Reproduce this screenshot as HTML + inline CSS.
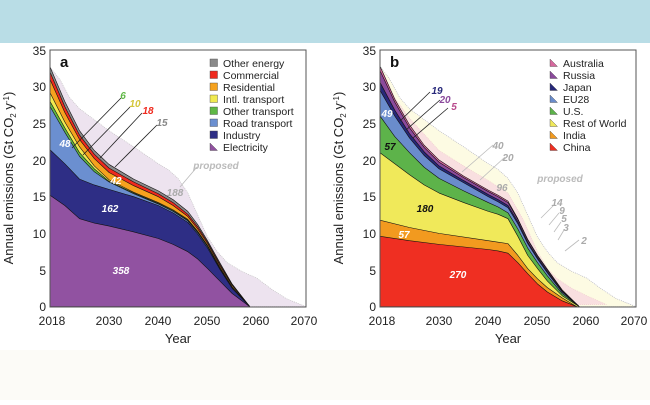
<!DOCTYPE html>
<html><head><meta charset="utf-8"><style>
body{margin:0;width:650px;height:400px;overflow:hidden;background:#fff;font-family:"Liberation Sans",sans-serif}
</style></head><body>
<svg width="650" height="400" viewBox="0 0 650 400" xmlns="http://www.w3.org/2000/svg" font-family="Liberation Sans, sans-serif">
<rect x="0" y="0" width="650" height="43" fill="#b9dde6"/>
<rect x="0" y="350" width="650" height="50" fill="#fcfbf7"/>

<!-- Panel A -->
<g transform="translate(50,306.7) scale(4.923,-7.333)" stroke="#111" stroke-width="0.6" stroke-linejoin="round">
<path vector-effect="non-scaling-stroke" stroke="#bbb" stroke-dasharray="1,1" fill="#ede3ef" d="M0,0 L0,32.7 2,31 4,28.5 6,27 9,25.5 12,24 17,21.8 22,19.5 24,18.7 26,17.5 28,15.5 30,12.5 32,9.5 34,7.5 36,6 39,4.8 42,3.9 45,2.4 48,1.1 52,0 Z"/>
<path vector-effect="non-scaling-stroke" fill="#8a8a8a" d="M0,0 L0,32.7 3,28 6,24 9,21.3 12,19.4 17,17.4 22,15.8 25,14.6 28,13 30,11.2 32,9 34.5,6 37,3.1 40.6,0 Z"/>
<path vector-effect="non-scaling-stroke" fill="#ef2a1e" d="M0,0 L0,32 3,27.3 6,23.4 9,20.8 12,18.9 17,17 22,15.4 25,14.2 28,12.6 30,10.9 32,8.8 34.5,5.8 37,3 40.6,0 Z"/>
<path vector-effect="non-scaling-stroke" fill="#f6a21e" d="M0,0 L0,31 3,26.5 6,22.8 9,20.2 12,18.3 17,16.5 22,15 25,13.8 28,12.3 30,10.6 32,8.6 34.5,5.6 37,2.9 40.6,0 Z"/>
<path vector-effect="non-scaling-stroke" fill="#f0ea50" d="M0,0 L0,29.2 3,25.2 6,21.8 9,19.2 12,17.3 17,15.6 22,14.2 25,13.2 28,11.9 30,10.3 32,8.35 34.5,5.4 37,2.7 40.6,0 Z"/>
<path vector-effect="non-scaling-stroke" fill="#5fb845" d="M0,0 L0,28 3,24.4 6,21 9,18.8 12,17.1 17,15.5 22,14.1 25,13.1 28,11.8 30,10.2 32,8.3 34.5,5.3 37,2.65 40.6,0 Z"/>
<path vector-effect="non-scaling-stroke" fill="#6b8fd0" d="M0,0 L0,27.3 3,23.8 6,20.5 9,18.4 12,17 17,15.4 22,14 25,13 28,11.7 30,10.1 32,8.2 34.5,5.2 37,2.6 40.6,0 Z"/>
<path vector-effect="non-scaling-stroke" fill="#2e2e85" d="M0,0 L0,21.4 3,19.5 6,17.4 9,16.6 12,16 17,15 22,13.8 25,12.8 28,11.5 30,9.9 32,8 34.5,5.1 37,2.5 40.6,0 Z"/>
<path vector-effect="non-scaling-stroke" fill="#9152a1" d="M0,0 L0,15.2 3,13.8 6,12 9,11.4 12,11 17,10.2 22,9.3 25,8.5 28,7.5 30,6.5 32,5.2 34.5,3.5 37,1.8 40.6,0 Z"/>
</g>
<rect x="50" y="50" width="256" height="257" fill="none" stroke="#555" stroke-width="1"/>
<g stroke="#222" stroke-width="0.8">
<line x1="72" y1="148" x2="121" y2="98"/><line x1="83" y1="155" x2="130" y2="107"/>
<line x1="100" y1="158" x2="142" y2="113"/><line x1="115" y1="167" x2="157" y2="125"/>
</g>
<g stroke="#bbb" stroke-width="0.8"><line x1="180" y1="187" x2="197" y2="167"/></g>
<g font-size="12" fill="#222" text-anchor="end">
<text x="46" y="311">0</text><text x="46" y="275">5</text><text x="46" y="238">10</text><text x="46" y="201">15</text><text x="46" y="165">20</text><text x="46" y="128">25</text><text x="46" y="91">30</text><text x="46" y="55">35</text>
</g>
<g font-size="12" fill="#222" text-anchor="middle">
<text x="52" y="325">2018</text><text x="109" y="325">2030</text><text x="158" y="325">2040</text><text x="207" y="325">2050</text><text x="256" y="325">2060</text><text x="304" y="325">2070</text>
<text x="178" y="343" font-size="13">Year</text>
</g>
<text transform="translate(13,178) rotate(-90)" font-size="13" fill="#222" text-anchor="middle">Annual emissions (Gt CO<tspan font-size="8" dy="3">2</tspan><tspan dy="-3">  y</tspan><tspan font-size="8" dy="-4">-1</tspan><tspan dy="4">)</tspan></text>
<text x="60" y="67" font-size="15" font-weight="bold" fill="#111">a</text>
<g font-size="10" font-weight="bold" font-style="italic" text-anchor="middle">
<text x="65" y="147" fill="#fff">48</text><text x="116" y="184" fill="#fff">42</text><text x="110" y="212" fill="#fff">162</text><text x="121" y="274" fill="#fff">358</text>
<text x="123" y="99" fill="#5fb845">6</text><text x="135" y="107" fill="#d4c63a">10</text><text x="148" y="114" fill="#ef2a1e">18</text><text x="162" y="126" fill="#888">15</text>
<text x="175" y="196" fill="#aaa">188</text><text x="216" y="169" fill="#bbb">proposed</text>
</g>
<g font-size="10.5" fill="#222">
<g stroke="#444" stroke-width="0.4">
<rect x="210" y="59" width="7.5" height="7.5" fill="#8a8a8a"/><rect x="210" y="71" width="7.5" height="7.5" fill="#ef2a1e"/><rect x="210" y="83" width="7.5" height="7.5" fill="#f6a21e"/><rect x="210" y="95" width="7.5" height="7.5" fill="#f0ea50"/><rect x="210" y="107" width="7.5" height="7.5" fill="#5fb845"/><rect x="210" y="119" width="7.5" height="7.5" fill="#6b8fd0"/><rect x="210" y="131" width="7.5" height="7.5" fill="#2e2e85"/><path d="M210,143 L217.5,150.5 L210,150.5Z" fill="#9152a1"/>
</g>
<text x="223" y="67">Other energy</text><text x="223" y="79">Commercial</text><text x="223" y="91">Residential</text><text x="223" y="103">Intl. transport</text><text x="223" y="115">Other transport</text><text x="223" y="127">Road transport</text><text x="223" y="139">Industry</text><text x="223" y="151">Electricity</text>
</g>

<!-- Panel B -->
<g transform="translate(380,306.7) scale(4.923,-7.333)" stroke="#111" stroke-width="0.6" stroke-linejoin="round">
<path vector-effect="non-scaling-stroke" stroke="#aab" stroke-dasharray="1,1" fill="#fdfbe3" d="M0,0 L0,32.8 2,31 4,28.5 6,27 9,25.5 12,24 17,21.8 22,19.5 24,18.7 26,17.5 28,15.5 30,12.5 32,9.5 34,7.5 36,6 39,4.8 42,3.9 45,2.4 48,1.1 52,0 Z"/>
<path vector-effect="non-scaling-stroke" stroke="#ecc" stroke-dasharray="1,1" fill="#f9dfe0" d="M0,0 L0,32.8 3,28.5 6,25.7 12,21.3 17,19.2 22,17.2 26,15.5 29,12 32,7.5 34,5.2 36,3.8 39,2.5 42,1.5 46,0.3 Z"/>
<path vector-effect="non-scaling-stroke" fill="#d7689e" d="M0,0 L0,32.8 3,28.3 6,24.8 9,22 12,20 17,17.8 22,15.9 24,15.2 26,14.4 28,12 30,9.2 32,7 34,5.1 37,2.3 40.5,0 Z"/>
<path vector-effect="non-scaling-stroke" fill="#8b4a9c" d="M0,0 L0,32.2 3,27.9 6,24.4 9,21.7 12,19.7 17,17.6 22,15.7 24,15 26,14.2 28,11.9 30,9.1 32,6.9 34,5 37,2.2 40.5,0 Z"/>
<path vector-effect="non-scaling-stroke" fill="#27287a" d="M0,0 L0,30.6 3,26.8 6,23.6 9,21.1 12,19.2 17,17.2 22,15.3 24,14.6 26,13.8 28,11.6 30,8.8 32,6.7 34,4.8 37,2.1 40.5,0 Z"/>
<path vector-effect="non-scaling-stroke" fill="#6a8ccc" d="M0,0 L0,29.5 3,26 6,23 9,20.6 12,18.8 17,16.9 22,15 24,14.3 26,13.5 28,11.3 30,8.6 32,6.5 34,4.6 37,2 40.5,0 Z"/>
<path vector-effect="non-scaling-stroke" fill="#5db34a" d="M0,0 L0,26 3,23.2 6,21 9,19 12,17.5 17,15.8 22,14.2 24,13.6 26,12.8 28,10.6 30,8 32,6 34,4.2 37,1.8 40.5,0 Z"/>
<path vector-effect="non-scaling-stroke" fill="#f0e95a" d="M0,0 L0,21 3,19.5 6,18 9,16.6 12,15.5 17,14.2 22,13 24,12.6 26,12 28,9.6 30,7 32,5.2 34,3.5 37,1.5 40.5,0 Z"/>
<path vector-effect="non-scaling-stroke" fill="#f29a1f" d="M0,0 L0,11.8 6,10.8 12,10 22,9 24,8.8 26,8.6 28,7 30,5.2 32,3.8 34,2.6 37,1.2 40,0 Z"/>
<path vector-effect="non-scaling-stroke" fill="#ef2f22" d="M0,0 L0,9.6 6,9 12,8.5 22,7.8 24,7.6 26,7.3 28,6 30,4.5 32,3.1 34,2 37,0.8 40,0 Z"/>
</g>
<rect x="380" y="50" width="256" height="257" fill="none" stroke="#555" stroke-width="1"/>
<g stroke="#222" stroke-width="0.8">
<line x1="400" y1="121" x2="430" y2="92"/><line x1="406" y1="130" x2="440" y2="100"/><line x1="413" y1="138" x2="448" y2="108"/>
</g>
<g stroke="#bbb" stroke-width="0.8">
<line x1="462" y1="172" x2="493" y2="145"/><line x1="480" y1="180" x2="505" y2="157"/>
<line x1="541" y1="218" x2="554" y2="205"/><line x1="549" y1="225" x2="559" y2="213"/><line x1="554" y1="232" x2="561" y2="222"/><line x1="558" y1="240" x2="564" y2="230"/><line x1="565" y1="251" x2="579" y2="240"/>
</g>
<g font-size="12" fill="#222" text-anchor="end">
<text x="376" y="311">0</text><text x="376" y="275">5</text><text x="376" y="238">10</text><text x="376" y="201">15</text><text x="376" y="165">20</text><text x="376" y="128">25</text><text x="376" y="91">30</text><text x="376" y="55">35</text>
</g>
<g font-size="12" fill="#222" text-anchor="middle">
<text x="382" y="325">2018</text><text x="439" y="325">2030</text><text x="488" y="325">2040</text><text x="537" y="325">2050</text><text x="586" y="325">2060</text><text x="634" y="325">2070</text>
<text x="508" y="343" font-size="13">Year</text>
</g>
<text transform="translate(343,178) rotate(-90)" font-size="13" fill="#222" text-anchor="middle">Annual emissions (Gt CO<tspan font-size="8" dy="3">2</tspan><tspan dy="-3">  y</tspan><tspan font-size="8" dy="-4">-1</tspan><tspan dy="4">)</tspan></text>
<text x="390" y="67" font-size="15" font-weight="bold" fill="#111">b</text>
<g font-size="10" font-weight="bold" font-style="italic" text-anchor="middle">
<text x="387" y="117" fill="#fff">49</text><text x="390" y="150" fill="#111">57</text><text x="425" y="212" fill="#111">180</text><text x="404" y="238" fill="#fff">57</text><text x="458" y="278" fill="#fff">270</text>
<text x="437" y="94" fill="#27287a">19</text><text x="445" y="103" fill="#8b4a9c">20</text><text x="454" y="110" fill="#b84a8c">5</text>
<text x="498" y="149" fill="#aaa">40</text><text x="508" y="161" fill="#aaa">20</text><text x="502" y="191" fill="#aaa">96</text><text x="560" y="182" fill="#bbb">proposed</text>
<text x="557" y="206" fill="#aaa">14</text><text x="562" y="214" fill="#aaa">9</text><text x="564" y="222" fill="#aaa">5</text><text x="566" y="231" fill="#aaa">3</text><text x="584" y="244" fill="#aaa">2</text>
</g>
<g font-size="10.5" fill="#222">
<g stroke="#444" stroke-width="0.4">
<path d="M550,59 L557.5,66.5 L550,66.5Z" fill="#d7689e"/><path d="M550,71 L557.5,78.5 L550,78.5Z" fill="#8b4a9c"/><path d="M550,83 L557.5,90.5 L550,90.5Z" fill="#27287a"/><path d="M550,95 L557.5,102.5 L550,102.5Z" fill="#6a8ccc"/><path d="M550,107 L557.5,114.5 L550,114.5Z" fill="#5db34a"/><path d="M550,119 L557.5,126.5 L550,126.5Z" fill="#f0e95a"/><path d="M550,131 L557.5,138.5 L550,138.5Z" fill="#f29a1f"/><path d="M550,143 L557.5,150.5 L550,150.5Z" fill="#ef2f22"/>
</g>
<text x="563" y="67">Australia</text><text x="563" y="79">Russia</text><text x="563" y="91">Japan</text><text x="563" y="103">EU28</text><text x="563" y="115">U.S.</text><text x="563" y="127">Rest of World</text><text x="563" y="139">India</text><text x="563" y="151">China</text>
</g>
</svg>
</body></html>
